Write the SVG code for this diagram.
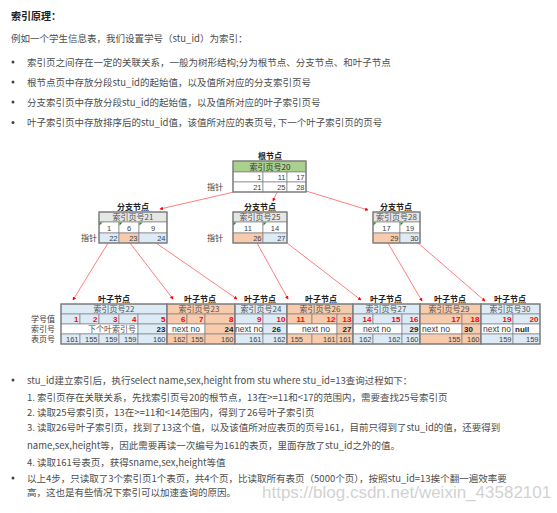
<svg xmlns="http://www.w3.org/2000/svg" width="557" height="513" viewBox="0 0 557 513">
<style>
.body{font-family:"Noto Sans CJK SC","Liberation Sans",sans-serif;font-size:9.5px;fill:#4d4d4d}
.h1{font-family:"Noto Sans CJK SC",sans-serif;font-size:10px;font-weight:bold;fill:#222}
.t{font-family:"Noto Sans CJK SC",sans-serif;font-size:8px;font-weight:bold;fill:#222;text-anchor:middle}
.hd{font-family:"Noto Sans CJK SC",sans-serif;font-size:8px;fill:#505050;text-anchor:middle}
.lb{font-family:"Noto Sans CJK SC",sans-serif;font-size:8px;fill:#404040}
.n{font-family:"Liberation Sans",sans-serif;font-size:7.5px;fill:#404040;text-anchor:end}
.nc{font-family:"Liberation Sans",sans-serif;font-size:7.5px;fill:#404040;text-anchor:middle}
.r{font-family:"Liberation Sans",sans-serif;font-size:8px;font-weight:bold;fill:#ff0000;text-anchor:end}
.p{font-family:"Liberation Sans",sans-serif;font-size:8px;font-weight:bold;fill:#222;text-anchor:end}
.nx{font-family:"Liberation Sans",sans-serif;font-size:8.5px;fill:#404040;text-anchor:middle}
.c{stroke:#808080;stroke-width:0.7}
.o{fill:none;stroke:#7f7f7f;stroke-width:1.3}
.b{fill:#ddebf7}
.g{fill:#f8cbad}
.w{fill:#ffffff}
.gr{fill:#e7e6e6}
.gn{fill:#a9d08e}
.ln{stroke:#ff7070;stroke-width:0.9;fill:none;marker-end:url(#ah)}
.tri{fill:#1f8a1f}
.wm{font-family:"Liberation Sans",sans-serif;font-size:17px;fill:#d2d2d2}
</style>
<defs>
<marker id="ah" viewBox="0 0 6 6" refX="5" refY="3" markerWidth="4" markerHeight="4" orient="auto">
<path d="M0,0 L6,3 L0,6 z" fill="#ff0000"/>
</marker>
</defs>
<rect width="557" height="513" fill="#ffffff"/>

<g id="intro">
<text class="h1" x="11" y="19.5">索引原理：</text>
<text class="body" x="11" y="41.5">例如一个学生信息表，我们设置学号（stu_id）为索引：</text>
<circle cx="13" cy="62" r="1.5" fill="#444"/>
<text class="body" x="27" y="65.5">索引页之间存在一定的关联关系，一般为树形结构;分为根节点、分支节点、和叶子节点</text>
<circle cx="13" cy="82" r="1.5" fill="#444"/>
<text class="body" x="27" y="85.5">根节点页中存放分段stu_id的起始值，以及值所对应的分支索引页号</text>
<circle cx="13" cy="102" r="1.5" fill="#444"/>
<text class="body" x="27" y="105.5">分支索引页中存放分段stu_id的起始值，以及值所对应的叶子索引页号</text>
<circle cx="13" cy="122.5" r="1.5" fill="#444"/>
<text class="body" x="27" y="126">叶子索引页中存放排序后的stu_id值，该值所对应的表页号, 下一个叶子索引页的页号</text>
</g>

<g id="connectors">
<line class="ln" x1="234" y1="192" x2="160" y2="209"/>
<line class="ln" x1="277" y1="192" x2="273" y2="201"/>
<line class="ln" x1="306" y1="191" x2="368" y2="210"/>
<line class="ln" x1="108" y1="243" x2="73" y2="300"/>
<line class="ln" x1="130" y1="243" x2="173" y2="299"/>
<line class="ln" x1="156" y1="243" x2="237" y2="299"/>
<line class="ln" x1="257" y1="243" x2="288" y2="299"/>
<line class="ln" x1="287" y1="243" x2="361" y2="300"/>
<line class="ln" x1="388" y1="243" x2="422" y2="301"/>
<line class="ln" x1="418" y1="243" x2="485" y2="301"/>
</g>

<g id="root">
<text class="t" x="270" y="159">根节点</text>
<rect class="gn c" x="233" y="161" width="73" height="11"/>
<text class="hd" x="270" y="169.5" style="fill:#333">索引页号20</text>
<rect class="w c" x="233" y="172" width="30" height="10"/>
<rect class="w c" x="263" y="172" width="24" height="10"/>
<rect class="w c" x="287" y="172" width="19" height="10"/>
<rect class="w c" x="233" y="182" width="30" height="10"/>
<rect class="w c" x="263" y="182" width="24" height="10"/>
<rect class="w c" x="287" y="182" width="19" height="10"/>
<rect class="o" x="233" y="161" width="73" height="31"/>
<text class="n" x="261.5" y="180">1</text>
<text class="n" x="285.5" y="180">11</text>
<text class="n" x="304.5" y="180">17</text>
<text class="n" x="261.5" y="190">21</text>
<text class="n" x="285.5" y="190">25</text>
<text class="n" x="304.5" y="190">28</text>
<text class="lb" x="207" y="190">指针</text>
</g>

<g id="branch21">
<text class="t" x="133" y="210">分支节点</text>
<rect class="gr c" x="99" y="212" width="68" height="10"/>
<text class="hd" x="133" y="220">索引页号21</text>
<rect class="w c" x="99" y="222" width="20" height="11"/>
<rect class="w c" x="119" y="222" width="20" height="11"/>
<rect class="w c" x="139" y="222" width="28" height="11"/>
<rect class="b c" x="99" y="233" width="20" height="10"/>
<rect class="g c" x="119" y="233" width="20" height="10"/>
<rect class="b c" x="139" y="233" width="28" height="10"/>
<rect class="o" x="99" y="212" width="68" height="31"/>
<polygon class="tri" points="99.5,222.5 102.5,222.5 99.5,225.5"/>
<polygon class="tri" points="119.5,222.5 122.5,222.5 119.5,225.5"/>
<polygon class="tri" points="139.5,222.5 142.5,222.5 139.5,225.5"/>
<text class="nc" x="109" y="230.5">1</text>
<text class="nc" x="129" y="230.5">6</text>
<text class="nc" x="153" y="230.5">9</text>
<text class="n" x="117.5" y="241">22</text>
<text class="n" x="137.5" y="241">23</text>
<text class="n" x="165.5" y="241">24</text>
<text class="lb" x="81" y="241">指针</text>
</g>

<g id="branch25">
<text class="t" x="260" y="210">分支节点</text>
<rect class="gr c" x="233" y="212" width="54" height="10"/>
<text class="hd" x="260" y="220">索引页号25</text>
<rect class="w c" x="233" y="222" width="30" height="11"/>
<rect class="w c" x="263" y="222" width="24" height="11"/>
<rect class="g c" x="233" y="233" width="30" height="10"/>
<rect class="b c" x="263" y="233" width="24" height="10"/>
<rect class="o" x="233" y="212" width="54" height="31"/>
<polygon class="tri" points="233.5,222.5 236.5,222.5 233.5,225.5"/>
<polygon class="tri" points="263.5,222.5 266.5,222.5 263.5,225.5"/>
<text class="nc" x="248" y="230.5">11</text>
<text class="nc" x="275" y="230.5">14</text>
<text class="n" x="261.5" y="241">26</text>
<text class="n" x="285.5" y="241">27</text>
<text class="lb" x="207" y="241">指针</text>
</g>

<g id="branch28">
<text class="t" x="396" y="210">分支节点</text>
<rect class="gr c" x="373" y="212" width="47" height="10"/>
<text class="hd" x="396.5" y="220">索引页号28</text>
<rect class="w c" x="373" y="222" width="27" height="11"/>
<rect class="w c" x="400" y="222" width="20" height="11"/>
<rect class="g c" x="373" y="233" width="27" height="10"/>
<rect class="b c" x="400" y="233" width="20" height="10"/>
<rect class="o" x="373" y="212" width="47" height="31"/>
<polygon class="tri" points="373.5,222.5 376.5,222.5 373.5,225.5"/>
<polygon class="tri" points="400.5,222.5 403.5,222.5 400.5,225.5"/>
<text class="nc" x="386.5" y="230.5">17</text>
<text class="nc" x="410" y="230.5">19</text>
<text class="n" x="398.5" y="241">29</text>
<text class="n" x="418.5" y="241">30</text>
</g>

<g id="leaf-labels">
<text class="lb" x="55" y="322" text-anchor="end">学号值</text>
<text class="lb" x="55" y="332" text-anchor="end">索引号</text>
<text class="lb" x="55" y="342" text-anchor="end">表页号</text>
</g>

<g id="leaf22">
<text class="t" x="114" y="302">叶子节点</text>
<rect class="b c" x="61" y="304" width="106" height="10"/>
<text class="hd" x="114" y="312">索引页号22</text>
<rect class="b c" x="61" y="314" width="19" height="10"/>
<rect class="b c" x="80" y="314" width="19" height="10"/>
<rect class="b c" x="99" y="314" width="20" height="10"/>
<rect class="b c" x="119" y="314" width="19" height="10"/>
<rect class="b c" x="138" y="314" width="29" height="10"/>
<rect class="w c" x="61" y="324" width="77" height="10"/>
<rect class="b c" x="138" y="324" width="29" height="10"/>
<rect class="b c" x="61" y="334" width="19" height="10"/>
<rect class="b c" x="80" y="334" width="19" height="10"/>
<rect class="b c" x="99" y="334" width="20" height="10"/>
<rect class="b c" x="119" y="334" width="19" height="10"/>
<rect class="b c" x="138" y="334" width="29" height="10"/>
<rect class="o" x="61" y="304" width="106" height="40"/>
<text class="r" x="78.5" y="322">1</text>
<text class="r" x="97.5" y="322">2</text>
<text class="r" x="117.5" y="322">3</text>
<text class="r" x="136.5" y="322">4</text>
<text class="r" x="165.5" y="322">5</text>
<text class="hd" x="136" y="332" style="text-anchor:end">下个叶索引号</text>
<text class="p" x="165.5" y="332">23</text>
<text class="n" x="78.5" y="342">161</text>
<text class="n" x="97.5" y="342">155</text>
<text class="n" x="117.5" y="342">159</text>
<text class="n" x="136.5" y="342">159</text>
<text class="n" x="165.5" y="342">160</text>
</g>

<g id="leaf23">
<text class="t" x="200" y="302">叶子节点</text>
<rect class="g c" x="167" y="304" width="68" height="10"/>
<text class="hd" x="199" y="312">索引页号23</text>
<rect class="g c" x="167" y="314" width="20" height="10"/>
<rect class="g c" x="187" y="314" width="18" height="10"/>
<rect class="g c" x="205" y="314" width="30" height="10"/>
<rect class="w c" x="167" y="324" width="38" height="10"/>
<rect class="g c" x="205" y="324" width="30" height="10"/>
<rect class="g c" x="167" y="334" width="20" height="10"/>
<rect class="g c" x="187" y="334" width="18" height="10"/>
<rect class="g c" x="205" y="334" width="30" height="10"/>
<rect class="o" x="167" y="304" width="68" height="40"/>
<text class="r" x="185.5" y="322">6</text>
<text class="r" x="203.5" y="322">7</text>
<text class="r" x="233.5" y="322">8</text>
<text class="nx" x="186" y="332">next no</text>
<text class="p" x="233.5" y="332">24</text>
<text class="n" x="185.5" y="342">162</text>
<text class="n" x="203.5" y="342">155</text>
<text class="n" x="233.5" y="342">160</text>
</g>

<g id="leaf24">
<text class="t" x="260" y="302">叶子节点</text>
<rect class="b c" x="235" y="304" width="52" height="10"/>
<text class="hd" x="261" y="312">索引页号24</text>
<rect class="b c" x="235" y="314" width="28" height="10"/>
<rect class="b c" x="263" y="314" width="24" height="10"/>
<rect class="w c" x="235" y="324" width="28" height="10"/>
<rect class="b c" x="263" y="324" width="24" height="10"/>
<rect class="b c" x="235" y="334" width="28" height="10"/>
<rect class="b c" x="263" y="334" width="24" height="10"/>
<rect class="o" x="235" y="304" width="52" height="40"/>
<text class="r" x="261.5" y="322">9</text>
<text class="r" x="285.5" y="322">10</text>
<text class="nx" x="249" y="332">next no</text>
<text class="p" x="281" y="332">26</text>
<text class="n" x="261.5" y="342">161</text>
<text class="n" x="285.5" y="342">162</text>
</g>

<g id="leaf26">
<text class="t" x="321" y="302">叶子节点</text>
<rect class="g c" x="287" y="304" width="66" height="10"/>
<text class="hd" x="320" y="312">索引页号26</text>
<rect class="g c" x="287" y="314" width="25" height="10"/>
<rect class="g c" x="312" y="314" width="25" height="10"/>
<rect class="g c" x="337" y="314" width="16" height="10"/>
<rect class="w c" x="287" y="324" width="50" height="10"/>
<rect class="g c" x="337" y="324" width="16" height="10"/>
<rect class="g c" x="287" y="334" width="25" height="10"/>
<rect class="g c" x="312" y="334" width="25" height="10"/>
<rect class="g c" x="337" y="334" width="16" height="10"/>
<rect class="o" x="287" y="304" width="66" height="40"/>
<text class="r" x="305" y="322">11</text>
<text class="r" x="335.5" y="322">12</text>
<text class="r" x="351.5" y="322">13</text>
<text class="nx" x="316" y="332">next no</text>
<text class="p" x="351.5" y="332">27</text>
<text class="n" x="303" y="342">155</text>
<text class="n" x="335.5" y="342">161</text>
<text class="n" x="351.5" y="342">161</text>
</g>

<g id="leaf27">
<text class="t" x="386" y="302">叶子节点</text>
<rect class="b c" x="353" y="304" width="67" height="10"/>
<text class="hd" x="386" y="312">索引页号27</text>
<rect class="b c" x="353" y="314" width="20" height="10"/>
<rect class="b c" x="373" y="314" width="29" height="10"/>
<rect class="b c" x="402" y="314" width="18" height="10"/>
<rect class="w c" x="353" y="324" width="49" height="10"/>
<rect class="b c" x="402" y="324" width="18" height="10"/>
<rect class="b c" x="353" y="334" width="20" height="10"/>
<rect class="b c" x="373" y="334" width="29" height="10"/>
<rect class="b c" x="402" y="334" width="18" height="10"/>
<rect class="o" x="353" y="304" width="67" height="40"/>
<text class="r" x="371.5" y="322">14</text>
<text class="r" x="400.5" y="322">15</text>
<text class="r" x="418.5" y="322">16</text>
<text class="nx" x="377" y="332">next no</text>
<text class="p" x="418.5" y="332">29</text>
<text class="n" x="371.5" y="342">162</text>
<text class="n" x="400.5" y="342">162</text>
<text class="n" x="418.5" y="342">160</text>
</g>

<g id="leaf29">
<text class="t" x="450" y="302">叶子节点</text>
<rect class="g c" x="420" y="304" width="61" height="10"/>
<text class="hd" x="449" y="312">索引页号29</text>
<rect class="g c" x="420" y="314" width="42" height="10"/>
<rect class="g c" x="462" y="314" width="19" height="10"/>
<rect class="w c" x="420" y="324" width="42" height="10"/>
<rect class="g c" x="462" y="324" width="19" height="10"/>
<rect class="g c" x="420" y="334" width="42" height="10"/>
<rect class="g c" x="462" y="334" width="19" height="10"/>
<rect class="o" x="420" y="304" width="61" height="40"/>
<text class="r" x="460.5" y="322">17</text>
<text class="r" x="479.5" y="322">18</text>
<text class="nx" x="436" y="332">next no</text>
<text class="p" x="473" y="332">30</text>
<text class="n" x="460.5" y="342">155</text>
<text class="n" x="479.5" y="342">160</text>
</g>

<g id="leaf30">
<text class="t" x="510" y="302">叶子节点</text>
<rect class="b c" x="481" y="304" width="59" height="10"/>
<text class="hd" x="510" y="312">索引页号30</text>
<rect class="b c" x="481" y="314" width="32" height="10"/>
<rect class="b c" x="513" y="314" width="27" height="10"/>
<rect class="w c" x="481" y="324" width="32" height="10"/>
<rect class="w c" x="513" y="324" width="27" height="10"/>
<rect class="b c" x="481" y="334" width="32" height="10"/>
<rect class="b c" x="513" y="334" width="27" height="10"/>
<rect class="o" x="481" y="304" width="59" height="40"/>
<text class="r" x="511.5" y="322">19</text>
<text class="r" x="538.5" y="322">20</text>
<text class="nx" x="497" y="332">next no</text>
<text class="p" x="515" y="332" style="text-anchor:start">null</text>
<text class="n" x="511.5" y="342">159</text>
<text class="n" x="538.5" y="342">159</text>
</g>

<g id="query">
<circle cx="13" cy="380" r="1.5" fill="#444"/>
<text class="body" x="27" y="383.5">stu_id建立索引后，执行select name,sex,height from stu where stu_id=13查询过程如下：</text>
<text class="body" x="27" y="400.5">1. 索引页存在关联关系，先找索引页号20的根节点，13在&gt;=11和&lt;17的范围内，需要查找25号索引页</text>
<text class="body" x="27" y="415.5">2. 读取25号索引页，13在&gt;=11和&lt;14范围内，得到了26号叶子索引页</text>
<text class="body" x="27" y="430.5">3. 读取26号叶子索引页，找到了13这个值，以及该值所对应表页的页号161，目前只得到了stu_id的值，还要得到</text>
<text class="body" x="27" y="448.5">name,sex,height等，因此需要再读一次编号为161的表页，里面存放了stu_id之外的值。</text>
<text class="body" x="27" y="465.5">4. 读取161号表页，获得sname,sex,height等值</text>
<circle cx="13" cy="478" r="1.5" fill="#444"/>
<text class="wm" x="262" y="498">https://blog.csdn.net/weixin_43582101</text>
<text class="body" x="27" y="481.5">以上4步，只读取了3个索引页1个表页，共4个页，比读取所有表页（5000个页），按照stu_id=13挨个翻一遍效率要</text>
<text class="body" x="27" y="495.5">高，这也是有些情况下索引可以加速查询的原因。</text>
</g>
</svg>
